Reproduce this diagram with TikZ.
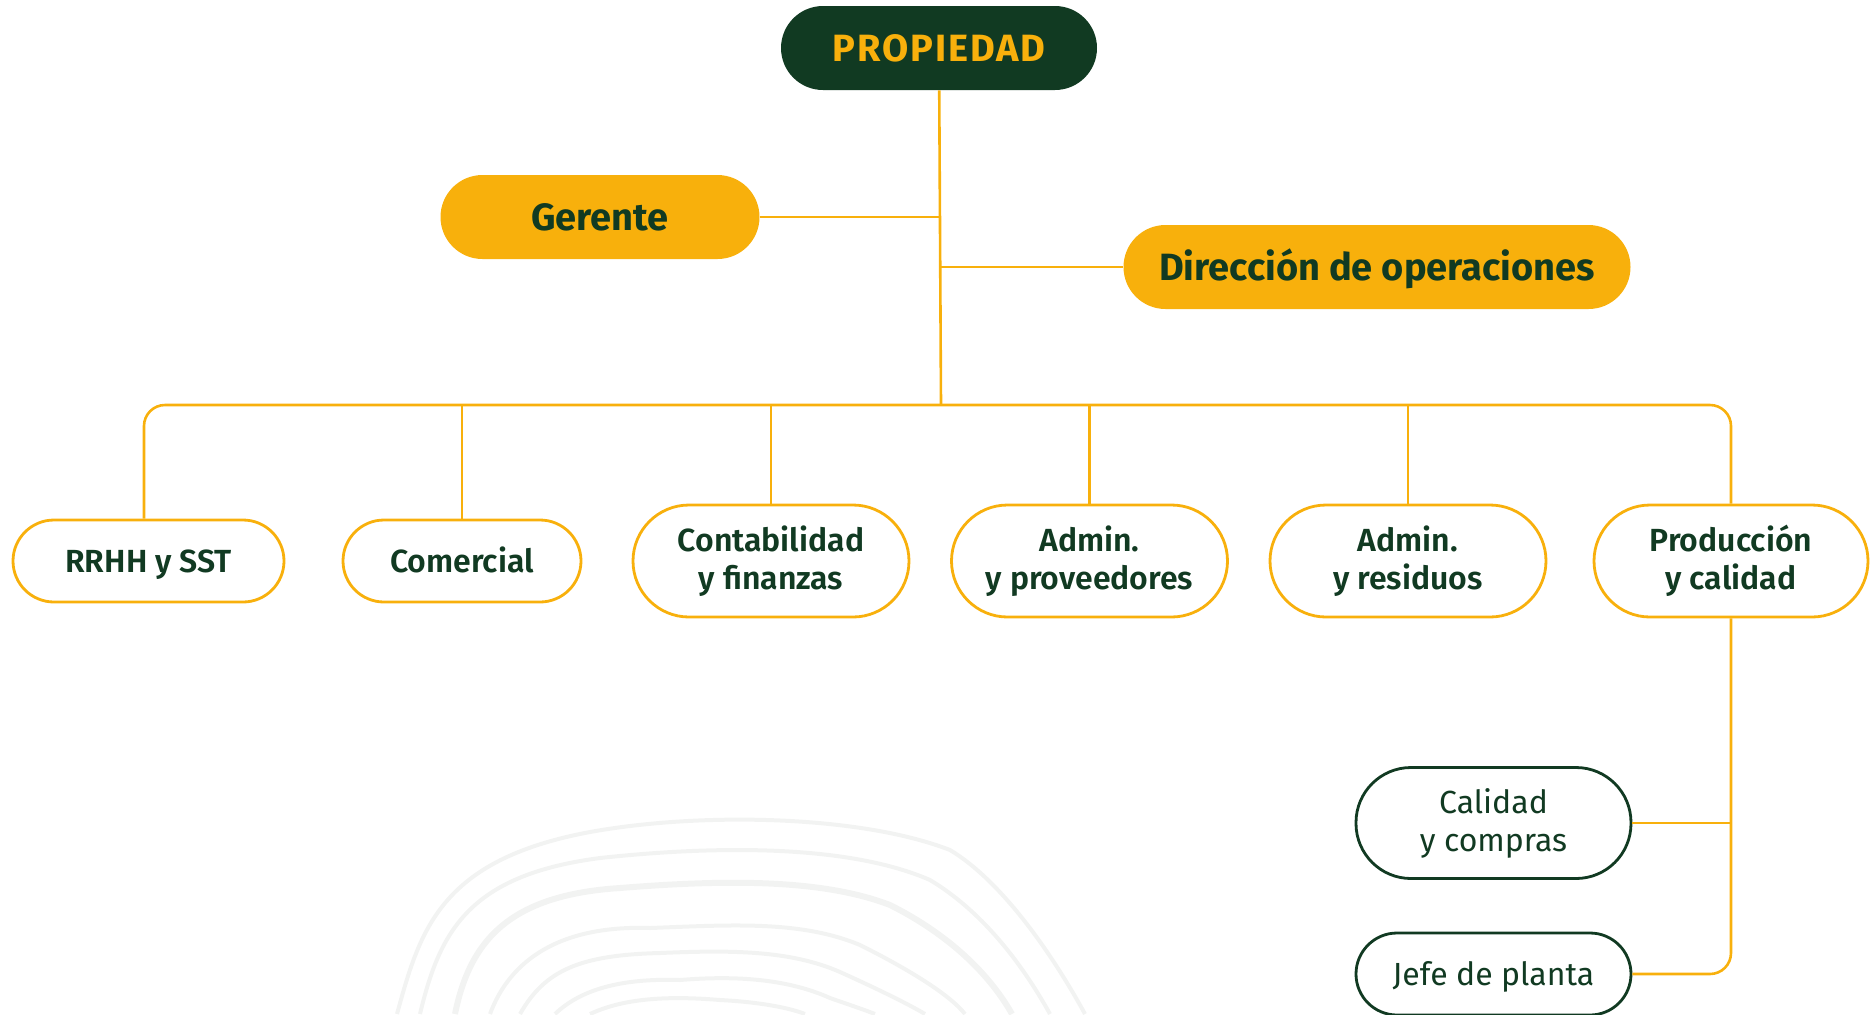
\documentclass[tikz,border=0pt]{standalone}
\usepackage{fontspec}
\setmainfont{Fira Sans}
\newfontfamily\semibold{Fira Sans SemiBold}
\newfontfamily\spaced{Fira Sans}[LetterSpace=5.0]
\definecolor{dgreen}{RGB}{17,58,34}
\definecolor{orng}{RGB}{248,176,12}
\definecolor{topo}{RGB}{242,243,242}
\tikzset{
  jefatura/.style={fill=orng, text=dgreen, font=\bfseries\fontsize{19}{22}\selectfont, minimum height=42pt, rounded corners=21pt, inner sep=0pt, text height=13.5pt, text depth=0pt},
  area/.style={draw=orng, line width=1.4pt, fill=white, text=dgreen, align=center, font=\semibold\fontsize{16}{19}\selectfont, minimum width=137pt, minimum height=56pt, rounded corners=28pt, inner sep=0pt},
  areachica/.style={area, minimum height=41pt, rounded corners=20.5pt, text height=11.5pt, text depth=0pt},
  sub/.style={area, draw=dgreen, font=\fontsize{16}{19}\selectfont},
  link/.style={draw=orng, line width=1.3pt}
}
\begin{document}
\begin{tikzpicture}[x=0.5pt,y=0.5pt,yscale=-1,xscale=1]
\useasboundingbox (0,0) rectangle (1870,1014);
% Curve Lines (topografia de fondo)
\draw [topo, line width=2pt] (397,1014) .. controls (420,930) and (440,860) .. (590,832) .. controls (700,812) and (860,815) .. (950,850) .. controls (1000,880) and (1050,950) .. (1085,1014) ;
\draw [topo, line width=2pt] (420,1014) .. controls (440,930) and (470,875) .. (600,858) .. controls (720,845) and (850,845) .. (930,880) .. controls (980,910) and (1020,960) .. (1050,1014) ;
\draw [topo, line width=3pt] (455,1014) .. controls (470,940) and (510,895) .. (620,888) .. controls (720,880) and (820,878) .. (890,905) .. controls (950,935) and (990,975) .. (1012,1014) ;
\draw [topo, line width=2pt] (490,1014) .. controls (510,960) and (560,925) .. (650,928) .. controls (730,925) and (800,920) .. (860,945) .. controls (910,970) and (950,995) .. (965,1014) ;
\draw [topo, line width=2pt] (520,1014) .. controls (545,970) and (580,955) .. (660,953) .. controls (730,950) and (790,950) .. (840,972) .. controls (880,990) and (910,1005) .. (925,1014) ;
\draw [topo, line width=2pt] (555,1014) .. controls (580,990) and (620,978) .. (680,980) .. controls (740,975) and (790,980) .. (830,998) .. controls (850,1005) and (865,1010) .. (875,1014) ;
\draw [topo, line width=2pt] (590,1014) .. controls (620,1000) and (660,995) .. (720,1000) .. controls (760,1002) and (790,1008) .. (805,1014) ;

% Shape: Rounded Rect
\node [jefatura, fill=dgreen, text=orng, minimum width=158pt, font=\spaced\bfseries\fontsize{19}{22}\selectfont] (prop) at (939,48) {PROPIEDAD};
\node [jefatura, minimum width=159.5pt] (ger) at (600,217) {Gerente};
\node [jefatura, minimum width=253.5pt] (dir) at (1377,267) {Dirección de operaciones};

\node [areachica, minimum width=135.5pt] (rrhh) at (148.5,561) {RRHH y SST};
\node [areachica, minimum width=119pt] (com) at (462,561) {Comercial};
\node [area, minimum width=138pt] (cont) at (771,561) {Contabilidad\\y finanzas};
\node [area, minimum width=138pt] (prov) at (1089.5,561) {Admin.\\y proveedores};
\node [area, minimum width=138pt] (res) at (1408,561) {Admin.\\y residuos};
\node [area, minimum width=137pt] (prod) at (1731,561) {Producción\\y calidad};

\node [sub, minimum width=137.5pt, minimum height=55.5pt, rounded corners=27.5pt] (cal) at (1493.5,823) {Calidad\\y compras};
\node [sub, minimum width=137.5pt, minimum height=41pt, rounded corners=20.5pt, text height=11.5pt, text depth=0pt] (jefe) at (1493.5,974) {Jefe de planta};

\coordinate (bus) at (941,405);
\coordinate (busizq) at (144,405);

% Straight Lines
\draw [link] (prop) -- (bus);
\draw [link] (ger.east) -- (ger.east -| bus);
\draw [link] (dir.west) -- (dir.west -| bus);
\draw [link, rounded corners=10.5pt] (rrhh.north -| busizq) -- (busizq) -- (bus) -| (prod.north);
\draw [link] (com.north) -- (com.north |- bus);
\draw [link] (cont.north) -- (cont.north |- bus);
\draw [link] (prov.north) -- (prov.north |- bus);
\draw [link] (res.north) -- (res.north |- bus);
\draw [link, rounded corners=10.5pt] (prod.south) |- (jefe.east);
\draw [link] (cal.east) -- (cal.east -| prod.south);

\end{tikzpicture}
\end{document}
